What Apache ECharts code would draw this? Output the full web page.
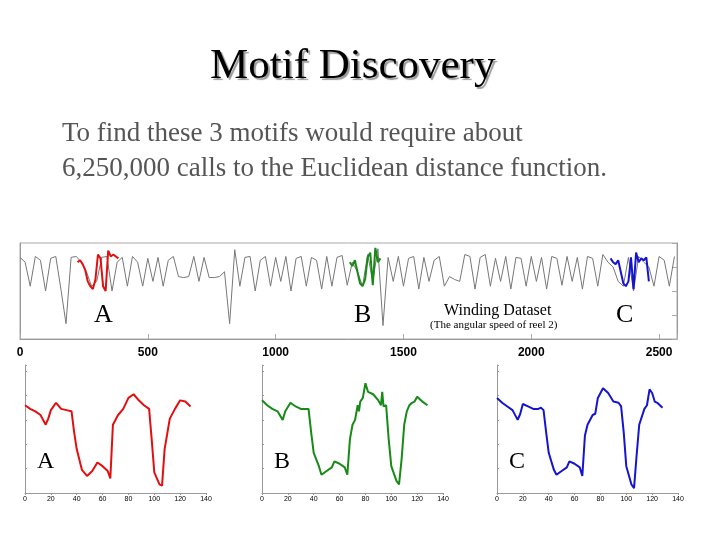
<!DOCTYPE html>
<html>
<head>
<meta charset="UTF-8">
<script src="https://cdn.jsdelivr.net/npm/echarts@6/dist/echarts.min.js"></script>
<style>
  body { margin:0; background:#fff; }
  #main { width:720px; height:540px; }
</style>
</head>
<body>
<div id="main"></div>
<script>
// winding dataset (coarse), step 20
var topStep = 20;
var topValues = [.85,.80,.55,.86,.82,.50,.84,.86,.52,.16,.85,
  .86,.80,.70,.55,.60,.85,.86,.50,.80,
  .85,.55,.86,.80,.55,.84,.60,.85,.55,.82,.86,
  .65,.64,.65,.86,.60,.85,.64,.64,.65,.70,
  .16,.93,.55,.85,.86,.50,.82,.86,.55,.85,.60,.86,.50,.84,.86,.55,.85,.82,.52,.86,.55,.85,.87,.56,
  .80,.70,.55,.88,.60,.94,.14,
  .85,.60,.86,.55,.84,.86,.52,.85,.60,.82,.86,.55,.65,.62,.60,.88,.86,.52,.85,.88,.55,.84,.60,.86,
  .52,.85,.84,.55,.86,.60,.85,.52,.86,.84,.56,.86,.60,.85,.52,.86,.84,.55,.88,.80,
  .75,.60,.55,.85,.50,.86,.80,.75,.55,.86,.82,.55,.86];
var segStep = 10;
var segA = {start:225, values:[.80,.82,.78,.72,.60,.55,.52,.62,.88,.84,.55,.50,.92,.86,.88,.86,.84]};
var segB = {start:1290, values:[.80,.76,.82,.70,.58,.55,.62,.85,.90,.56,.95,.80,.84]};
var segC = {start:2310, values:[.84,.80,.78,.82,.70,.58,.55,.60,.85,.52,.90,.80,.84,.82,.85,.60]};

// motifs
var motifAx = [0,4,8,12,16,18,20,24,28,32,36,38,40,44,48,52,56,60,64,66,68,72,76,80,84,88,92,96,98,100,104,106,108,112,116,120,124,128];
var motifAy = [.72,.69,.67,.64,.56,.61,.68,.74,.69,.68,.67,.50,.36,.19,.14,.18,.25,.22,.18,.12,.56,.64,.69,.78,.81,.76,.72,.69,.44,.17,.07,.06,.36,.61,.69,.76,.75,.71];
var motifBx = [0,4,8,12,16,18,22,26,30,36,38,40,44,46,50,54,56,60,64,66,68,70,72,74,75,76,78,80,82,86,90,92,93,94,96,98,100,104,106,108,110,112,114,116,118,120,124,128];
var motifBy = [.76,.72,.69,.67,.60,.67,.74,.71,.69,.69,.50,.33,.22,.15,.18,.21,.26,.24,.21,.15,.44,.56,.60,.72,.67,.75,.78,.90,.83,.81,.76,.72,.83,.71,.72,.44,.22,.10,.07,.28,.56,.67,.72,.74,.75,.79,.75,.72];
var motifCx = [0,4,8,12,16,18,20,24,28,32,34,36,38,40,44,46,50,54,56,60,64,66,68,70,74,76,78,82,86,90,94,96,98,100,104,106,108,110,114,116,118,120,122,124,128];
var motifCy = [.78,.74,.71,.68,.60,.65,.73,.71,.69,.69,.70,.68,.50,.33,.19,.15,.18,.21,.26,.24,.21,.14,.47,.56,.64,.65,.78,.86,.82,.75,.74,.71,.50,.22,.07,.04,.31,.56,.69,.72,.85,.82,.75,.74,.70];
var topTicks = [0,500,1000,1500,2000,2500];

function pairs(start, step, vals){ return vals.map(function(v,i){ return [start+i*step, v]; }); }
function zip(xs, ys){ return xs.map(function(x,i){ return [x, ys[i]]; }); }

var chart = echarts.init(document.getElementById('main'));
var grids = [
  {left:20, top:243, width:657, height:96, show:true, borderColor:'#aaa', borderWidth:1},
  {left:25, top:365, width:181, height:128},
  {left:262, top:365, width:181, height:128},
  {left:497, top:365, width:181, height:128}
];
var axLine = {show:true, lineStyle:{color:'#999', width:1}};
var xAxes = [{gridIndex:0, type:'value', min:0, max:2570, interval:500, axisLine:axLine,
  axisTick:{show:true, inside:true, lineStyle:{color:'#aaa'}}, splitLine:{show:false},
  axisLabel:{fontFamily:'Arial', fontSize:12, fontWeight:'bold', color:'#000', margin:8,
    formatter:function(v){ return topTicks.indexOf(v)>=0 ? v : ''; }}}];
var yAxes = [{gridIndex:0, type:'value', min:0, max:1, interval:0.25, axisLine:axLine,
  axisTick:{show:false}, axisLabel:{show:false}, splitLine:{show:false}},
  {gridIndex:0, type:'value', position:'right', min:0, max:1, interval:0.25, axisLine:axLine,
  axisTick:{show:true, inside:true, length:5, lineStyle:{color:'#aaa'}}, axisLabel:{show:false}, splitLine:{show:false}}];
for (var g=1; g<4; g++){
  xAxes.push({gridIndex:g, type:'value', min:0, max:140, interval:20, axisLine:axLine,
    axisTick:{show:true, length:2, lineStyle:{color:'#999'}}, splitLine:{show:false},
    axisLabel:{fontFamily:'Arial', fontSize:7, color:'#000', margin:3}});
  yAxes.push({gridIndex:g, type:'value', min:0, max:1.05, axisLine:axLine,
    axisTick:{show:true, inside:true, length:2}, axisLabel:{show:false}, splitLine:{show:false}});
}
function line(gi, yi, data, color, w){
  return {type:'line', xAxisIndex:gi, yAxisIndex:yi, data:data, showSymbol:false,
    lineStyle:{color:color, width:w}, silent:true, animation:false};
}
function txt(x, y, s, size, extra){
  var st = {text:s, fontFamily:'Liberation Serif', fontSize:size, fill:'#000'};
  for (var k in extra) st[k] = extra[k];
  return {type:'text', left:x, top:y, style:st};
}
chart.setOption({
  animation:false,
  grid: grids, xAxis: xAxes, yAxis: yAxes,
  series: [
    line(0, 0, pairs(0, topStep, topValues), '#777', 1),
    line(0, 0, pairs(segA.start, segStep, segA.values), '#e01010', 2),
    line(0, 0, pairs(segB.start, segStep, segB.values), '#178a17', 2),
    line(0, 0, pairs(segC.start, segStep, segC.values), '#1515d0', 2),
    line(1, 2, zip(motifAx, motifAy), '#e01010', 2),
    line(2, 3, zip(motifBx, motifBy), '#178a17', 2),
    line(3, 4, zip(motifCx, motifCy), '#1515d0', 2)
  ],
  graphic: [
    txt(210, 45, 'Motif Discovery', 43, {textShadowColor:'#999', textShadowOffsetX:2, textShadowOffsetY:2, textShadowBlur:1}),
    txt(62, 120, 'To find these 3 motifs would require about', 27, {fill:'#555'}),
    txt(62, 155, '6,250,000 calls to the Euclidean distance function.', 27, {fill:'#555'}),
    txt(94, 302, 'A', 26), txt(354, 302, 'B', 26), txt(616, 302, 'C', 26),
    txt(444, 303, 'Winding Dataset', 16),
    txt(430, 320, '(The angular speed of reel 2)', 11),
    txt(37, 450, 'A', 24), txt(274, 450, 'B', 24), txt(509, 450, 'C', 24)
  ]
});
</script>
</body>
</html>
